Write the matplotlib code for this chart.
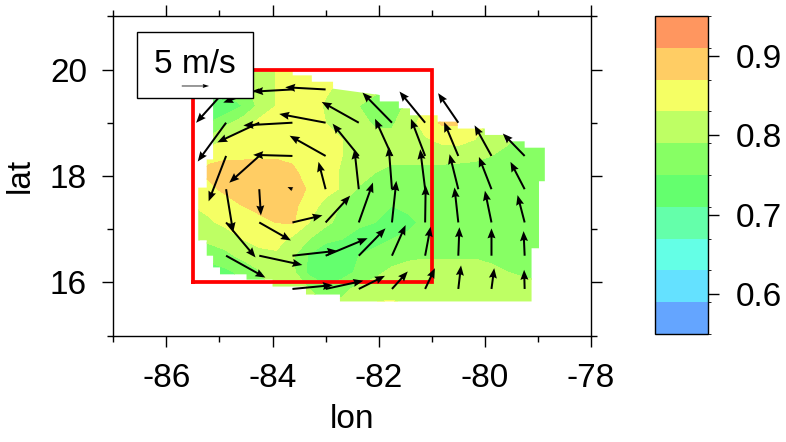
import numpy as np
import matplotlib
matplotlib.use('Agg')
import matplotlib.pyplot as plt
from matplotlib.colors import ListedColormap, BoundaryNorm
from matplotlib.patches import Polygon, Rectangle

plt.rcParams['font.family'] = ['Liberation Sans', 'DejaVu Sans']

# field nodes, every 0.3125 deg
grid_lon = [-85.5, -85.1875, -84.875, -84.5625, -84.25, -83.9375, -83.625, -83.3125, -83.0, -82.6875, -82.375, -82.0625,
            -81.75, -81.4375, -81.125, -80.8125, -80.5, -80.1875, -79.875, -79.5625, -79.25, -78.9375, -78.625]
grid_lat = [20.25, 19.9375, 19.625, 19.3125, 19.0, 18.6875, 18.375, 18.0625, 17.75, 17.4375, 17.125, 16.8125,
            16.5, 16.1875, 15.875, 15.5625, 15.25]
field = [
    [.76, .77, .78, .79, .81, .83, .85, .85, .84, .83, .82, .81, .80, .80, .81, .82, .82, .82, .81, .80, .79, .78, .78],
    [.76, .77, .78, .79, .81, .83, .85, .85, .84, .83, .82, .81, .80, .80, .81, .82, .82, .82, .81, .80, .79, .78, .78],
    [.74, .75, .76, .78, .81, .83, .85, .85, .835, .82, .81, .80, .79, .80, .81, .82, .83, .83, .82, .80, .79, .78, .78],
    [.69, .71, .72, .75, .80, .83, .85, .85, .825, .81, .79, .77, .77, .80, .83, .85, .86, .85, .82, .80, .79, .78, .78],
    [.73, .75, .78, .81, .84, .85, .86, .855, .83, .81, .80, .785, .785, .81, .85, .875, .875, .86, .82, .80, .79, .78, .78],
    [.78, .80, .83, .85, .855, .86, .86, .86, .845, .83, .81, .80, .80, .81, .825, .84, .845, .83, .81, .795, .78, .77, .77],
    [.82, .86, .865, .865, .865, .865, .865, .86, .85, .83, .815, .80, .80, .80, .80, .805, .805, .80, .79, .78, .775, .77, .77],
    [.865, .88, .885, .885, .89, .89, .875, .86, .845, .825, .81, .79, .78, .78, .78, .775, .77, .77, .77, .77, .77, .77, .77],
    [.84, .86, .88, .89, .895, .895, .89, .865, .845, .825, .785, .775, .77, .77, .77, .77, .765, .765, .765, .765, .76, .76, .76],
    [.83, .84, .85, .87, .88, .885, .88, .85, .815, .785, .77, .76, .75, .76, .77, .77, .77, .77, .77, .77, .77, .77, .77],
    [.81, .825, .84, .85, .86, .87, .875, .83, .80, .775, .76, .75, .73, .74, .76, .77, .77, .77, .77, .77, .77, .77, .77],
    [.79, .80, .81, .83, .84, .85, .82, .79, .76, .75, .73, .74, .75, .76, .77, .775, .775, .775, .775, .77, .77, .77, .77],
    [.76, .765, .78, .80, .82, .82, .795, .745, .72, .73, .75, .76, .77, .78, .785, .785, .785, .785, .78, .78, .775, .77, .77],
    [.71, .73, .74, .76, .785, .81, .80, .74, .72, .73, .76, .78, .80, .81, .81, .81, .81, .81, .80, .79, .78, .78, .78],
    [.72, .73, .74, .76, .78, .80, .80, .79, .76, .78, .80, .81, .82, .825, .82, .82, .815, .81, .81, .81, .81, .80, .80],
    [.72, .73, .74, .76, .78, .80, .80, .80, .79, .80, .825, .835, .835, .83, .82, .82, .815, .81, .81, .81, .81, .80, .80],
    [.72, .73, .74, .76, .78, .80, .80, .80, .79, .80, .825, .835, .835, .83, .82, .82, .815, .81, .81, .81, .81, .80, .80],
]

levels = [.55, .59, .63, .67, .71, .75, .79, .83, .87, .91, .95]
colors = ['#64a5ff', '#64e1ff', '#64ffe6', '#64ffaa', '#64ff6e', '#87ff64',
          '#beff64', '#f5ff64', '#ffcd64', '#ff965f']

# edge of the data coverage
edge_lon = [-84.95, -84.05, -84.05, -83.62, -83.62, -83.26, -83.26, -82.86, -82.86, -81.98, -81.98, -81.62,
            -81.62, -81.41, -81.41, -80.89, -80.89, -80.51, -80.51, -80.0, -80.0, -79.62, -79.62, -79.25,
            -79.25, -78.87, -78.87, -78.98, -78.98, -79.12, -79.12, -82.73, -82.73, -83.37, -83.37, -84.0,
            -84.0, -84.49, -84.49, -84.99, -84.99, -85.12, -85.12, -85.24, -85.24, -85.40, -85.40, -85.24,
            -85.24, -85.12, -85.12, -84.95]
edge_lat = [19.96, 19.96, 19.98, 19.98, 19.89, 19.89, 19.77, 19.77, 19.64, 19.52, 19.40, 19.40,
            19.27, 19.27, 19.14, 19.14, 19.02, 19.02, 18.89, 18.89, 18.77, 18.77, 18.65, 18.65,
            18.53, 18.53, 17.90, 17.90, 16.64, 16.64, 15.64, 15.64, 15.77, 15.77, 15.92, 15.92,
            16.05, 16.05, 16.15, 16.15, 16.28, 16.28, 16.50, 16.50, 16.79, 16.79, 17.78, 17.78,
            18.31, 18.31, 19.44, 19.44]

# wind vectors, m/s
wind_lon = [-84.875, -84.25, -83.625, -83.0,
            -84.875, -84.25, -83.625, -83.0, -82.375, -81.75, -81.125, -80.5,
            -84.875, -84.25, -83.625, -83.0, -82.375, -81.75, -81.125, -80.5, -79.875, -79.25,
            -84.875, -84.25, -83.625, -83.0, -82.375, -81.75, -81.125, -80.5, -79.875, -79.25,
            -84.875, -84.25, -83.625, -83.0, -82.375, -81.75, -81.125, -80.5, -79.875, -79.25,
            -84.875, -84.25, -83.625, -83.0, -82.375, -81.75, -81.125, -80.5, -79.875, -79.25,
            -83.625, -83.0, -82.375, -81.75, -81.125, -80.5, -79.875, -79.25]
wind_lat = [19.625] * 4 + [19.0] * 8 + [18.375] * 10 + [17.75] * 10 + [17.125] * 10 + [16.5] * 10 + [15.875] * 8
wind_u = [-5.5, -6.6, -7.2, -7.4,
          -5.2, -7.7, -9.0, -8.5, -6.8, -5.4, -4.7, -3.7,
          -3.2, -5.5, -7.2, -6.6, -4.8, -3.1, -2.6, -2.6, -3.1, -4.0,
          1.3, 0.3, -0.9, -1.3, -0.8, -0.6, -0.9, -1.6, -2.3, -2.6,
          5.4, 5.8, 5.5, 4.5, 2.6, 0.8, 0.1, -0.7, -1.2, -1.3,
          7.2, 7.9, 8.2, 7.7, 4.9, 2.5, 1.0, 0.2, 0.0, -0.2,
          7.4, 6.9, 4.8, 2.9, 1.8, 0.5, 0.5, -0.1]
wind_v = [-6.1, -2.4, -0.4, 0.4,
          -7.1, -3.6, -0.5, 1.6, 3.8, 5.5, 5.7, 5.4,
          -8.3, -4.9, 0.2, 3.7, 5.9, 6.8, 6.8, 6.2, 5.6, 4.1,
          -7.9, -4.8, 0.4, 5.0, 7.3, 7.8, 7.3, 6.4, 5.9, 5.0,
          -6.4, -3.3, 1.3, 4.9, 7.3, 7.6, 6.8, 6.4, 5.8, 5.0,
          -4.0, -1.7, 0.9, 3.2, 5.0, 5.6, 5.3, 5.2, 5.0, 4.5,
          0.7, 1.5, 2.4, 3.2, 3.8, 4.3, 3.8, 3.5]

key_speed = 5

fig = plt.figure(figsize=(7.86, 4.42), dpi=100)
W, H = 786., 442.
ax = fig.add_axes([113.3 / W, 1 - 335.5 / H, 477.7 / W, 319.2 / H])
cax = fig.add_axes([655. / W, 1 - 334. / H, 53. / W, 318. / H])

cmap = ListedColormap(colors)
norm = BoundaryNorm(levels, cmap.N)
cs = ax.contourf(grid_lon, grid_lat, np.array(field), levels=levels, cmap=cmap, norm=norm, zorder=1)
coverage = Polygon(np.column_stack([edge_lon, edge_lat]), closed=True, transform=ax.transData, fill=False, edgecolor='none')
ax.add_patch(coverage)
cs.set_clip_path(coverage)

ax.plot([-85.5, -81, -81, -85.5, -85.5], [16, 16, 20, 20, 16], color='#ff0000', lw=2.7, zorder=2, solid_joinstyle='miter')

ax.quiver(wind_lon, wind_lat, wind_u, wind_v, angles='xy', scale_units='xy', scale=9.73,
          units='dots', width=2.0, headwidth=4.0, headlength=5.0, headaxislength=4.5, color='black', zorder=3)

ax.set_xlim(-87, -78)
ax.set_ylim(15, 21)
ax.set_xticks(range(-86, -77, 2))
ax.set_yticks(range(16, 21, 2))
ax.set_xticks(range(-87, -77, 2), minor=True)
ax.set_yticks(range(15, 22, 2), minor=True)
ax.tick_params(which='major', length=8, width=1, top=True, right=True, labelsize=24)
ax.tick_params(which='minor', length=4, width=1, top=True, right=True)
ax.tick_params(axis='x', which='major', pad=12)
ax.tick_params(axis='y', which='major', pad=11)
for s in ax.spines.values():
    s.set_linewidth(1)
ax.set_xticklabels(['-86', '-84', '-82', '-80', '-78'])
ax.set_xlabel('lon', fontsize=24, labelpad=7)
ax.set_ylabel('lat', fontsize=24, labelpad=10)

# key box
ax.add_patch(Rectangle((-86.55, 19.47), 2.18, 1.24, facecolor='white', edgecolor='black', lw=1, zorder=4))
ax.text(-85.46, 20.09, '5 m/s', fontsize=24, ha='center', va='center', zorder=5)
ax.quiver([-85.71], [19.69], [key_speed], [0], angles='xy', scale_units='xy', scale=9.73,
          units='dots', width=0.8, headwidth=5, headlength=8, headaxislength=7, color='black', zorder=5)

cb = fig.colorbar(cs, cax=cax, ticks=[0.6, 0.7, 0.8, 0.9], drawedges=False, spacing='proportional')
cb.ax.set_yticklabels(['0.6', '0.7', '0.8', '0.9'])
cb.ax.tick_params(length=8, width=1, labelsize=24, pad=12)
cb.outline.set_linewidth(1)

fig.savefig('out.png', dpi=100)
